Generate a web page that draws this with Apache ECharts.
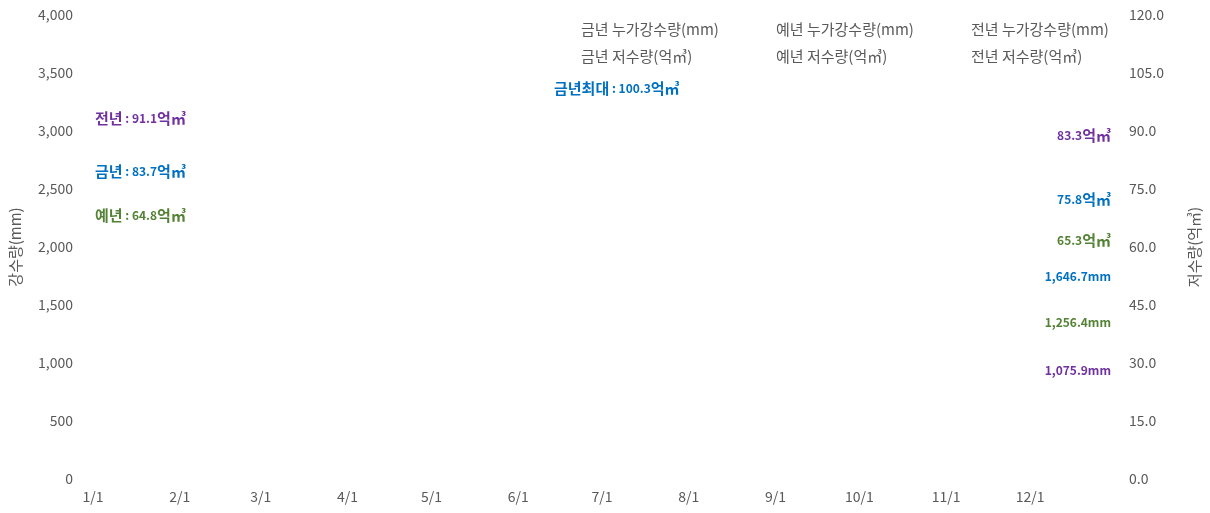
<!DOCTYPE html>
<html>
<head>
<meta charset="utf-8">
<script src="https://cdn.jsdelivr.net/npm/echarts@6/dist/echarts.min.js"></script>
<style>
html,body{margin:0;padding:0;background:#fff;}
#chart{width:1210px;height:513px;}
</style>
</head>
<body>
<div id="chart"></div>
<script>
// ---- data ----
var year = 2024;
var monthLengths = [31,29,31,30,31,30,31,31,30,31,30,31];
var seriesNames = ['금년 누가강수량(mm)','예년 누가강수량(mm)','전년 누가강수량(mm)','금년 저수량(억㎥)','예년 저수량(억㎥)','전년 저수량(억㎥)'];
// series have no plotted values in the reference (empty chart)
var rainThisYear = [];
var rainNormal = [];
var rainLastYear = [];
var storageThisYear = [];
var storageNormal = [];
var storageLastYear = [];
// annotation values
var startStorageLabels = ['전년','금년','예년'];
var startStorageValues = [91.1, 83.7, 64.8];
var endStorageValues = [83.3, 75.8, 65.3];     // 전년, 금년, 예년
var endRainValues = [1646.7, 1256.4, 1075.9];  // 금년, 예년, 전년
var maxStorageThisYear = 100.3;
var leftTicks = {min:0, max:4000, interval:500};
var rightTicks = {min:0, max:120, interval:15};

// categories: every day of the year, M/D
var categories = [];
for (var m = 0; m < 12; m++) {
  for (var d = 1; d <= monthLengths[m]; d++) categories.push((m+1) + '/' + d);
}

var C_PURPLE = '#7030A0', C_BLUE = '#0070C0', C_GREEN = '#548235';
var GRAY = '#595959';
var FONT = "'Noto Sans CJK KR', 'Noto Sans', sans-serif";

function fmt(v, dec){
  return v.toLocaleString('en-US', {minimumFractionDigits: dec, maximumFractionDigits: dec});
}

var chart = echarts.init(document.getElementById('chart'));

function legendItem(name, left, top){
  return {
    data: [name], left: left, top: top, icon: 'none', itemWidth: 0, itemHeight: 0, itemGap: 0,
    padding: 0, selectedMode: false,
    textStyle: {color: GRAY, fontSize: 15, fontFamily: FONT, padding: 0}
  };
}

function annot(korPrefix, num, unit, x, y, color, align){
  var txt = (korPrefix ? '{k|' + korPrefix + '}{n| : }' : '') + '{n|' + num + '}{k|' + unit + '}';
  return {
    type: 'text', x: x, y: y, silent: true,
    style: {text: txt, fill: color, fontFamily: FONT, fontWeight: 'bold',
            align: align || 'left', verticalAlign: 'middle',
            rich: {
              k: {fontSize: 15, fontWeight: 'bold', fontFamily: FONT, fill: color},
              n: {fontSize: 12, fontWeight: 'bold', fontFamily: FONT, fill: color}
            }}
  };
}
var annotColors = {'전년': C_PURPLE, '금년': C_BLUE, '예년': C_GREEN};
var leftY = [118, 171, 215];
var graphics = [];
startStorageLabels.forEach(function(lbl, i){
  graphics.push(annot(lbl, fmt(startStorageValues[i],1), '억㎥', 95, leftY[i], annotColors[lbl]));
});
graphics.push(annot('금년최대', fmt(maxStorageThisYear,1), '억㎥', 554, 88, C_BLUE));
var endStorColors = [C_PURPLE, C_BLUE, C_GREEN];
var endStorY = [135, 199, 240];
endStorageValues.forEach(function(v,i){
  graphics.push(annot('', fmt(v,1), '억㎥', 1111, endStorY[i], endStorColors[i], 'right'));
});
var endRainColors = [C_BLUE, C_GREEN, C_PURPLE];
var endRainY = [276, 322, 370];
endRainValues.forEach(function(v,i){
  graphics.push(annot('', fmt(v,1), '', 1111, endRainY[i], endRainColors[i], 'right'));
  graphics[graphics.length-1].style.text = '{n|' + fmt(v,1) + 'mm}';
});

var seriesData = [rainThisYear, rainNormal, rainLastYear, storageThisYear, storageNormal, storageLastYear];
var seriesColors = [C_BLUE, C_GREEN, C_PURPLE, C_BLUE, C_GREEN, C_PURPLE];

var option = {
  animation: false,
  backgroundColor: '#fff',
  textStyle: {fontFamily: FONT},
  grid: {left: 89, right: 95, top: 15, bottom: 34, containLabel: false},
  legend: [
    legendItem(seriesNames[0], 576, 22),
    legendItem(seriesNames[1], 771, 22),
    legendItem(seriesNames[2], 966, 22),
    legendItem(seriesNames[3], 576, 49),
    legendItem(seriesNames[4], 771, 49),
    legendItem(seriesNames[5], 966, 49)
  ],
  xAxis: {
    type: 'category',
    data: categories,
    boundaryGap: false,
    axisLine: {show: false},
    axisTick: {show: false},
    splitLine: {show: false},
    axisLabel: {
      color: GRAY, fontSize: 14, fontFamily: FONT, margin: 11,
      interval: function(idx, val){ return /\/1$/.test(val); }
    }
  },
  yAxis: [
    {
      type: 'value', position: 'left',
      min: leftTicks.min, max: leftTicks.max, interval: leftTicks.interval,
      name: '강수량(mm)', nameLocation: 'middle', nameGap: 70, nameRotate: 90,
      nameTextStyle: {color: GRAY, fontSize: 15, fontFamily: FONT},
      axisLine: {show: false}, axisTick: {show: false}, splitLine: {show: false},
      axisLabel: {color: GRAY, fontSize: 14, fontFamily: FONT, margin: 20,
        formatter: function(v){ return fmt(v,0); }}
    },
    {
      type: 'value', position: 'right',
      min: rightTicks.min, max: rightTicks.max, interval: rightTicks.interval,
      name: '저수량(억㎥)', nameLocation: 'middle', nameGap: 73, nameRotate: 90,
      nameTextStyle: {color: GRAY, fontSize: 15, fontFamily: FONT},
      axisLine: {show: false}, axisTick: {show: false}, splitLine: {show: false},
      axisLabel: {color: GRAY, fontSize: 14, fontFamily: FONT, margin: 15,
        formatter: function(v){ return v.toFixed(1); }}
    }
  ],
  series: seriesNames.map(function(n, i){
    return {
      name: n, type: 'line', yAxisIndex: i < 3 ? 0 : 1,
      data: seriesData[i], showSymbol: false,
      lineStyle: {color: seriesColors[i], width: 2},
      itemStyle: {color: seriesColors[i]}
    };
  }),
  graphic: graphics
};
chart.setOption(option);
</script>
</body>
</html>
